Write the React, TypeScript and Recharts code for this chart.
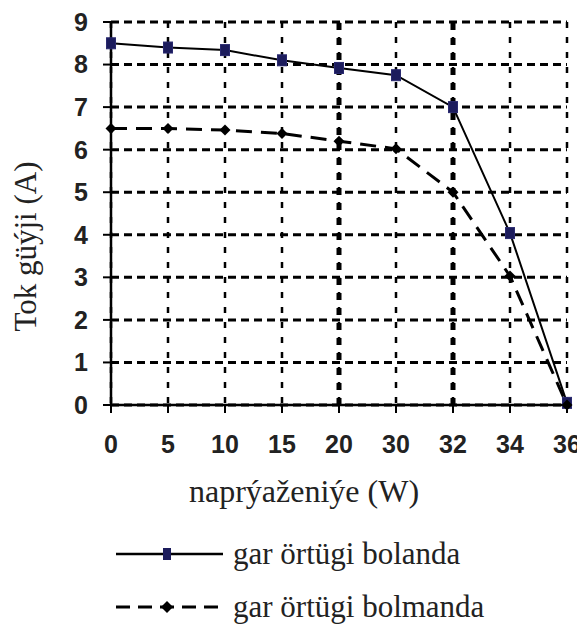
import React from 'react';
import { LineChart, Line, XAxis, YAxis, CartesianGrid, ReferenceLine, Legend } from 'recharts';

const xLabels = ['0', '5', '10', '15', '20', '30', '32', '34', '36'];
const withCover = [8.5, 8.4, 8.34, 8.1, 7.92, 7.75, 7.0, 4.04, 0.05];
const withoutCover = [6.5, 6.5, 6.46, 6.38, 6.2, 6.02, 5.0, 3.03, 0];
const yTicks = [0, 1, 2, 3, 4, 5, 6, 7, 8, 9];
const thickLines = ['20', '32'];
const seriesNames = ['gar örtügi bolanda', 'gar örtügi bolmanda'];

const data = xLabels.map((x, i) => ({ x, a: withCover[i], b: withoutCover[i] }));

const SquareDot = (props: any) => {
  const { cx, cy } = props;
  if (cx == null || cy == null) return null;
  return <rect x={cx - 4.5} y={cy - 5.5} width={9} height={11} fill="#1c1c5c" stroke="#2a2a70" strokeWidth={1} />;
};

const DiamondDot = (props: any) => {
  const { cx, cy } = props;
  if (cx == null || cy == null) return null;
  return <polygon points={`${cx},${cy - 5.5} ${cx + 5.5},${cy} ${cx},${cy + 5.5} ${cx - 5.5},${cy}`} fill="#000" />;
};

const serif = '"Liberation Serif", "Times New Roman", serif';
const sans = '"Liberation Sans", Arial, sans-serif';

const LegendContent = () => (
  <div style={{ fontFamily: serif, fontSize: 31, color: '#222', lineHeight: 1 }}>
    <div style={{ display: 'flex', alignItems: 'center', height: 31, marginBottom: 22 }}>
      <svg width={110} height={20}>
        <line x1={0} y1={10} x2={107} y2={10} stroke="#000" strokeWidth={2.5} />
        <rect x={47} y={4} width={8} height={12} fill="#1c1c5c" />
      </svg>
      <span style={{ marginLeft: 7 }}>{seriesNames[0]}</span>
    </div>
    <div style={{ display: 'flex', alignItems: 'center', height: 31 }}>
      <svg width={110} height={20}>
        <line x1={0} y1={10} x2={107} y2={10} stroke="#000" strokeWidth={3} strokeDasharray="14 8" />
        <polygon points="51,4 57,10 51,16 45,10" fill="#000" />
      </svg>
      <span style={{ marginLeft: 7 }}>{seriesNames[1]}</span>
    </div>
  </div>
);

export default function App() {
  return (
    <LineChart width={577} height={618} data={data} margin={{ top: 14, right: 18, bottom: 181, left: 0 }}>
      <CartesianGrid stroke="#000" strokeWidth={3} strokeDasharray="8 5" vertical={false} />
      <CartesianGrid stroke="#000" strokeWidth={2.5} strokeDasharray="6 9" horizontal={false} />
      {thickLines.map((v) => (
        <ReferenceLine key={v} x={v} stroke="#000" strokeWidth={5} strokeDasharray="7 8" />
      ))}
      <XAxis
        dataKey="x"
        type="category"
        interval={0}
        tickSize={8}
        tickMargin={22}
        stroke="#000"
        axisLine={{ stroke: '#000', strokeWidth: 2.5 }}
        tickLine={{ stroke: '#000', strokeWidth: 2 }}
        tick={{ fill: '#222', fontSize: 25, fontWeight: 'bold', fontFamily: sans }}
        height={40}
        label={{
          content: (p: any) => {
            const vb = p.viewBox || {};
            return (
              <text x={vb.x + vb.width / 2 - 35} y={vb.y + 97} textAnchor="middle" style={{ fontFamily: serif, fontSize: 32 }} fill="#222">
                naprýaženiýe (W)
              </text>
            );
          },
        }}
      />
      <YAxis
        type="number"
        domain={[0, 9]}
        ticks={yTicks}
        interval={0}
        width={103}
        tickSize={8}
        tickMargin={15}
        axisLine={{ stroke: '#000', strokeWidth: 2.5 }}
        tickLine={{ stroke: '#000', strokeWidth: 2 }}
        tick={{ fill: '#222', fontSize: 25, fontWeight: 'bold', fontFamily: sans }}
        label={{
          content: (p: any) => {
            const vb = p.viewBox || {};
            const cy = vb.y + vb.height / 2 + 33;
            return (
              <text x={28} y={cy} transform={`rotate(-90, 28, ${cy})`} textAnchor="middle" style={{ fontFamily: serif, fontSize: 31 }} fill="#222">
                Tok güýji (A)
              </text>
            );
          },
        }}
      />
      <Line
        type="linear"
        dataKey="a"
        name={seriesNames[0]}
        stroke="#000"
        strokeWidth={2}
        dot={<SquareDot />}
        isAnimationActive={false}
      />
      <Line
        type="linear"
        dataKey="b"
        name={seriesNames[1]}
        stroke="#000"
        strokeWidth={3}
        strokeDasharray="16 9"
        dot={<DiamondDot />}
        isAnimationActive={false}
      />
      <Legend
        layout="horizontal"
        verticalAlign="middle"
        align="center"
        content={<LegendContent />}
        wrapperStyle={{ top: 530, left: 108, width: 460 }}
      />
    </LineChart>
  );
}
